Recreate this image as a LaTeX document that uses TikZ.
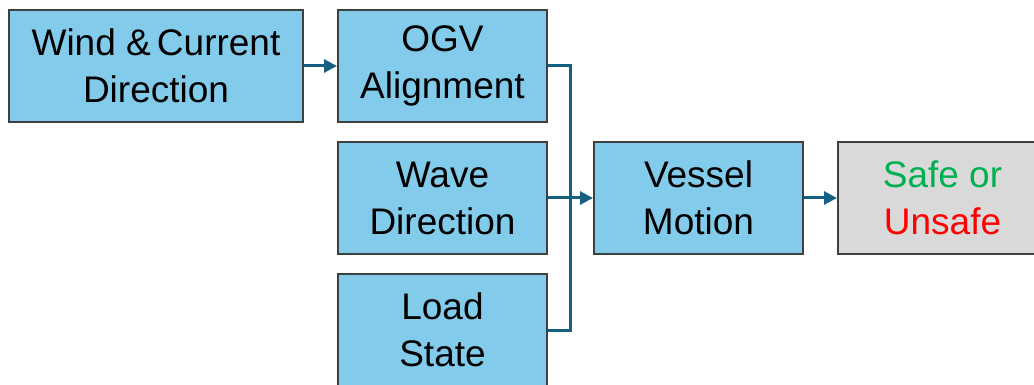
\documentclass[tikz,border=0pt]{standalone}
\usepackage{fontspec}
\setmainfont{Liberation Sans}
\usetikzlibrary{arrows.meta, positioning}
\definecolor{boxblue}{RGB}{131,203,235}
\definecolor{linkblue}{RGB}{21,96,130}
\definecolor{boxedge}{RGB}{64,64,64}
\definecolor{boxgray}{RGB}{217,217,217}
\definecolor{safegreen}{RGB}{0,176,80}
\begin{document}
\begin{tikzpicture}[x=1pt, y=-1pt,
		block/.style={draw=boxedge, line width=2pt, fill=boxblue, minimum height=112pt, inner sep=0pt, align=center, font=\fontsize{37}{47}\selectfont},
		link/.style={draw=linkblue, line width=3pt}]
			\useasboundingbox (0, 0) rectangle (1034, 385);
			\clip (0, 0) rectangle (1034, 385);
			
			\node[block, minimum width=294pt] (wind) at (156, 66) {Wind \&\,Current\\Direction};
			\node[block, minimum width=209pt] (ogv) at (442.5, 66) {OGV\\Alignment};
			\node[block, minimum width=209pt] (wave) at (442.5, 198) {Wave\\Direction};
			\node[block, minimum width=209pt] (load) at (442.5, 330) {Load\\State};
			\node[block, minimum width=209pt] (motion) at (698.5, 198) {Vessel\\Motion};
			\node[block, minimum width=209pt, fill=boxgray] (verdict) at (942.5, 198) {\textcolor{safegreen}{Safe or}\\\textcolor{red}{Unsafe}};
			
			\coordinate (bus) at (570, 198);
			
			\draw[link, -{Triangle[length=13pt, width=13pt]}] (wind) -- (ogv);
			\draw[link] (ogv.east) -| (bus) |- (load.east);
			\draw[link, -{Triangle[length=13pt, width=13pt]}] (wave) -- (motion);
			\draw[link, -{Triangle[length=13pt, width=13pt]}] (motion) -- (verdict);
		\end{tikzpicture}
\end{document}
